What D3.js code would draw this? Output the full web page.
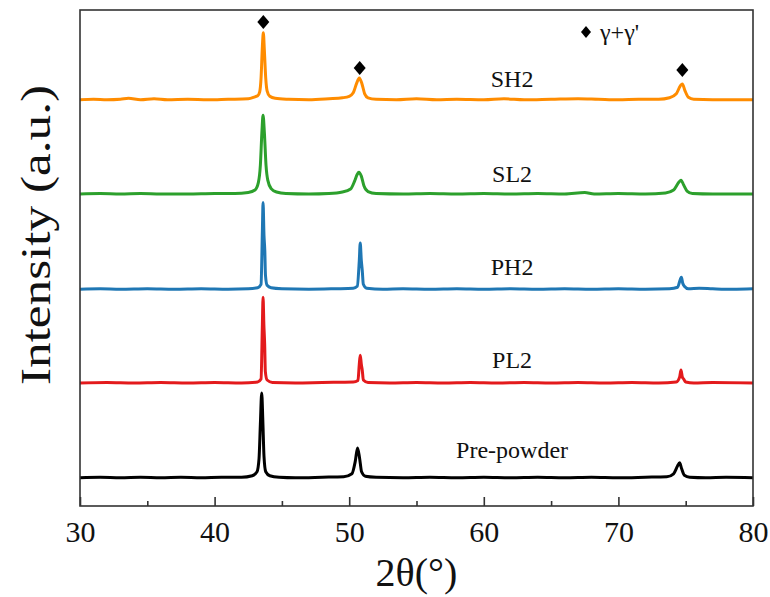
<!DOCTYPE html>
<html>
<head>
<meta charset="utf-8">
<script src="https://cdn.jsdelivr.net/npm/d3@7"></script>
<style>
  body { margin: 0; background: #fff; }
  text { font-family: "Liberation Serif", "Times New Roman", serif; fill: #111; }
</style>
</head>
<body>
<svg id="chart"></svg>
<script>
// series names, colours and offsets (a.u.)
const names = ["SH2", "SL2", "PH2", "PL2", "Pre-powder"];
const colors = ["#ff8c00", "#2ca02c", "#1f77b4", "#e31a1c", "#000000"];
const offsets = [817, 627, 435, 246, 55];

// [2theta, intensity above the offset]
const sh2 = [[30,2],[31,3],[32,2],[33,3],[33.6,5],[34.5,2],[35.5,4],[36.5,2],[38,3],[39.5,2],[41,3],[42.5,4],[43.0,8],[43.2,10],[43.35,18],[43.45,45],[43.55,110],[43.62,137],[43.7,100],[43.8,45],[43.9,20],[44.1,9],[44.5,5],[45.5,3],[47,2],[48.5,4],[49.5,6],[50.0,9],[50.3,16],[50.55,35],[50.75,46],[50.95,34],[51.15,14],[51.4,6],[52,3],[53.5,2],[55,4],[56.5,2],[58,3],[60,2],[61.5,4],[63,2],[65,3],[67,4],[68.5,3],[70,2],[71.5,3],[73,3],[73.8,6],[74.3,14],[74.6,30],[74.75,34],[74.95,20],[75.2,7],[75.6,3],[77,2],[78.5,2],[80,2]];
const sl2 = [[30,2],[31.5,3],[33,2],[34.5,3],[36,2],[38,2],[40,3],[41.5,3],[42.5,5],[43.0,10],[43.25,25],[43.4,60],[43.52,130],[43.6,161],[43.7,125],[43.82,60],[43.95,30],[44.2,13],[44.6,6],[45.3,3],[47,2],[48.5,3],[49.5,6],[50.1,12],[50.4,28],[50.6,42],[50.72,46],[50.9,38],[51.1,18],[51.4,7],[52,3],[54,2],[56,3],[58,2],[60,3],[62,2],[64,3],[66,2],[67.5,5],[68.2,2],[70,3],[72,2],[73.5,4],[74.1,10],[74.5,26],[74.65,30],[74.85,20],[75.1,8],[75.5,3],[77,2],[80,2]];
const ph2 = [[30,2],[31.5,3],[33,2],[35,3],[37,2],[39,3],[41,2],[42.5,3],[43.2,5],[43.45,12],[43.55,120],[43.6,177],[43.67,110],[43.73,80],[43.78,30],[43.9,10],[44.2,5],[45,3],[47,2],[49,3],[50.3,4],[50.6,8],[50.75,60],[50.82,95],[50.9,60],[50.97,40],[51.05,12],[51.3,4],[52.5,2],[54,3],[56,2],[58,3],[60,2],[62,3],[64,2],[66,3],[68,2],[70,3],[72,2],[73.8,3],[74.4,6],[74.6,22],[74.68,26],[74.78,14],[74.9,8],[75.2,3],[76,4],[77,3],[78.5,2],[80,3]];
const pl2 = [[30,2],[32,3],[34,2],[36,3],[38,2],[40,3],[42,2],[43.2,4],[43.45,10],[43.55,120],[43.6,175],[43.66,120],[43.72,80],[43.77,25],[43.9,8],[44.3,3],[46,2],[48,3],[50.3,4],[50.65,7],[50.75,40],[50.82,58],[50.9,40],[50.97,28],[51.05,8],[51.4,3],[53,2],[55,3],[57,2],[59,3],[61,2],[63,3],[65,2],[67,3],[69,2],[71,3],[73,2],[74.3,4],[74.55,14],[74.65,28],[74.75,14],[74.85,10],[75,4],[75.6,2],[77,3],[80,2]];
const prePowder = [[30,2],[31.5,3],[33,2],[34.5,3],[36,2],[37.5,3],[39,2],[40.5,3],[42,3],[42.8,6],[43.15,14],[43.3,40],[43.4,110],[43.5,173],[43.58,120],[43.67,45],[43.8,14],[44.1,6],[44.8,3],[46,2],[48,3],[49.6,4],[50.2,10],[50.45,35],[50.62,62],[50.78,40],[50.92,14],[51.2,5],[52,3],[54,2],[56,3],[58,2],[60,3],[62,2],[64,3],[66,2],[68,3],[70,2],[72,3],[73.6,4],[74.1,10],[74.4,26],[74.55,32],[74.7,20],[74.9,7],[75.3,3],[76.5,2],[78,3],[80,2]];
const seriesData = [sh2, sl2, ph2, pl2, prePowder];

// label positions (2theta, a.u.)
const labelX = 62.1;
const labelY = [845, 654, 466, 278, 97];

// gamma + gamma' peak markers
const markerX = [43.62, 50.78, 74.75];
const markerY = [976, 883, 879];

const xTicks = [30, 40, 50, 60, 70, 80];
const xMinor = [35, 45, 55, 65, 75];

const width = 770, height = 597;
const margin = { top: 10, right: 17, bottom: 91, left: 80 };

const svg = d3.select("#chart").attr("width", width).attr("height", height);

const x = d3.scaleLinear().domain([30, 80]).range([margin.left, width - margin.right]);
const y = d3.scaleLinear().domain([0, 1000]).range([height - margin.bottom, margin.top]);

const line = d3.line()
  .x(d => x(d[0]))
  .y(d => y(d[1]))
  .curve(d3.curveMonotoneX);

seriesData.forEach((s, i) => {
  svg.append("path")
    .datum(s.map(d => [d[0], d[1] + offsets[i]]))
    .attr("fill", "none")
    .attr("stroke", colors[i])
    .attr("stroke-width", 3)
    .attr("stroke-linejoin", "round")
    .attr("d", line);
});

// labels
svg.selectAll(".lbl")
  .data(names)
  .enter()
  .append("text")
  .attr("class", "lbl")
  .attr("x", x(labelX))
  .attr("y", (d, i) => y(labelY[i]))
  .attr("text-anchor", "middle")
  .style("font-size", "24px")
  .text(d => d);

// diamonds
const diamond = "M0,-7L6,0L0,7L-6,0Z";
svg.selectAll(".mk")
  .data(markerX)
  .enter()
  .append("path")
  .attr("class", "mk")
  .attr("d", diamond)
  .attr("fill", "#000")
  .attr("transform", (d, i) => `translate(${x(d)},${y(markerY[i])})`);

// legend
svg.append("path")
  .attr("d", "M0,-6L5,0L0,6L-5,0Z")
  .attr("fill", "#000")
  .attr("transform", "translate(586,32)");
svg.append("text")
  .attr("x", 600)
  .attr("y", 40)
  .style("font-size", "24px")
  .text("γ+γ'");

// frame
svg.append("rect")
  .attr("x", margin.left)
  .attr("y", margin.top)
  .attr("width", width - margin.left - margin.right)
  .attr("height", height - margin.top - margin.bottom)
  .attr("fill", "none")
  .attr("stroke", "#333")
  .attr("stroke-width", 1.6);

// x axis, ticks inward
const xAxis = d3.axisBottom(x).tickValues(xTicks).tickSize(-9).tickPadding(15).tickFormat(d3.format("d"));
const gx = svg.append("g")
  .attr("transform", `translate(0,${height - margin.bottom})`)
  .call(xAxis);
gx.select(".domain").remove();
gx.selectAll("line").attr("stroke", "#333").attr("stroke-width", 1.6);
gx.selectAll("text").style("font-size", "30px").attr("fill", "#111");

const gm = svg.append("g")
  .attr("transform", `translate(0,${height - margin.bottom})`)
  .call(d3.axisBottom(x).tickValues(xMinor).tickSize(-5).tickFormat(""));
gm.select(".domain").remove();
gm.selectAll("line").attr("stroke", "#333").attr("stroke-width", 1.6);

// axis titles
svg.append("text")
  .attr("x", (margin.left + width - margin.right) / 2)
  .attr("y", 586)
  .attr("text-anchor", "middle")
  .style("font-size", "40px")
  .text("2θ(°)");

svg.append("text")
  .attr("transform", "translate(50,235) rotate(-90)")
  .attr("text-anchor", "middle")
  .attr("textLength", 300)
  .attr("lengthAdjust", "spacingAndGlyphs")
  .style("font-size", "42px")
  .text("Intensity (a.u.)");
</script>
</body>
</html>
